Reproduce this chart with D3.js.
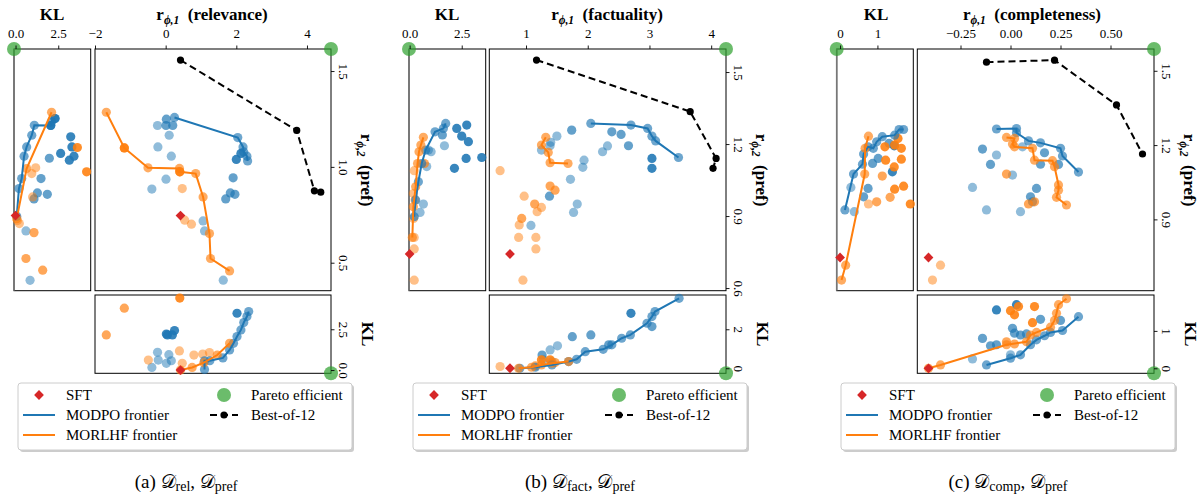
<!DOCTYPE html>
<html><head><meta charset="utf-8">
<script src="https://cdn.jsdelivr.net/npm/d3@7"></script>
<style>body{margin:0;background:#fff}</style>
</head><body>
<script>
// ---------------- DATA ----------------
// Each scatter point: [x, y, w] where w is a weight shown through opacity.
// (a) relevance vs pref
const relMainModpoFrontier=[[0.25,1.258],[2.04,1.153],[2.19,1.104],[2.21,1.078],[2.30,1.056],[2.32,1.031]];
const relMainMorlhfFrontier=[[-1.68,1.285],[-1.17,1.099],[-0.50,0.995],[0.39,0.992],[0.40,0.974],[0.85,0.965],[1.06,0.843],[1.24,0.652],[1.27,0.522],[1.81,0.457]];
const relMainModpoPts=[[0.02,1.249,.6],[-0.23,1.216,.3],[0.01,1.216,.6],[0.20,1.216,.6],[0.10,1.165,.3],[-0.22,1.104,.3],[0.16,1.056,.3],[2.13,1.07,.9],[2.0,1.039,.9],[0.01,0.936,.3],[1.91,0.943,.6],[-0.39,0.884,.3],[1.83,0.864,.6],[1.96,0.857,.6],[1.70,0.833,.6],[1.06,0.718,.3],[1.10,0.666,.3],[1.63,0.409,.3]];
const relMainMorlhfPts=[[-1.17,1.099,.9],[0.40,0.974,.9],[0.47,0.887,.3],[0.54,0.722,.3],[0.73,0.701,.3]];
const relBest=[[0.42,1.557],[3.71,1.19],[4.21,0.875],[4.39,0.868]];
const relSft=[0.42,0.746,0];
const relLeftModpoFrontier=[[0.07,0.743],[0.20,0.887],[0.36,0.939],[0.50,1.056],[0.65,1.104],[0.95,1.165],[1.10,1.217],[2.06,1.216],[2.11,1.235],[2.31,1.252]];
const relLeftMorlhfFrontier=[[0.07,0.730],[0.65,0.991],[2.11,1.285]];
const relLeftModpoPts=[[2.31,1.252,.9],[2.06,1.216,.9],[3.23,1.157,.9],[3.30,1.104,.9],[3.42,1.056,.9],[2.64,1.07,.9],[3.15,1.035,.9],[1.98,1.045,.6],[1.49,0.939,.6],[1.28,0.864,.6],[1.86,0.857,.6],[1.08,0.833,.6],[0.61,0.666,.3],[0.85,0.408,.3]];
const relLeftMorlhfPts=[[3.62,1.101,.9],[4.16,0.974,.9],[1.18,0.995,.3],[0.95,0.965,.3],[1.0,0.843,.3],[1.08,0.657,.6],[0.61,0.522,.6],[1.59,0.461,.6],[0.22,0.704,.3],[0.11,0.72,.3]];
const relBottomModpoFrontier=[[1.10,0.04],[1.10,0.57],[1.25,0.57],[1.62,0.74],[1.81,1.23],[1.92,1.64],[2.02,2.05],[2.13,2.46],[2.21,2.91],[2.30,3.28],[2.35,3.59]];
const relBottomMorlhfFrontier=[[0.42,0],[0.75,0.16],[1.08,0.45],[1.46,0.92],[1.81,1.64]];
const relBottomModpoPts=[[2.02,3.48,.9],[-0.23,1.09,.3],[0.05,2.15,.9],[0.19,2.15,.9],[0.25,2.42,.9],[0.02,2.21,.9],[-0.39,0.16,.3],[-0.21,0.61,.3],[0.09,0.94,.3],[0.02,0.41,.3],[0.16,0.57,.3]];
const relBottomMorlhfPts=[[-1.17,3.79,.6],[-1.68,2.15,.6],[0.40,4.41,.9],[-0.49,0.61,.3],[0.39,1.17,.3],[0.47,0.41,.3],[0.80,0.92,.3],[1.05,0.98,.3],[1.24,1.07,.3]];

// (b) factuality vs pref
const factMainModpoFrontier=[[2.05,1.286],[2.70,1.279],[2.97,1.265],[3.04,1.233],[3.10,1.213],[3.47,1.144]];
const factMainMorlhfFrontier=[[1.32,1.228],[1.25,1.196],[1.36,1.165],[1.39,1.122],[1.68,1.119]];
const factMainModpoPts=[[1.74,1.258,.6],[1.50,1.233,.3],[1.40,1.207,.3],[1.25,1.175,.3],[1.39,1.193,.3],[2.39,1.251,.6],[2.54,1.240,.6],[2.66,1.193,.6],[2.32,1.192,.3],[2.24,1.168,.3],[3.04,1.140,.9],[3.04,1.099,.9],[1.94,1.133,.3],[1.92,1.103,.3],[1.72,1.053,.3],[1.38,0.983,.6],[1.83,0.950,.3],[1.77,0.915,.3],[1.08,0.861,.3]];
const factMainMorlhfPts=[[0.58,1.089,.3],[1.39,1.025,.6],[1.47,1.008,.6],[0.97,0.983,.3],[1.14,0.950,.6],[1.25,0.936,.3],[1.18,0.918,.3],[0.93,0.890,.6],[0.89,0.863,.3],[0.88,0.811,.3],[1.16,0.811,.3],[1.16,0.763,.3],[0.95,0.633,.3]];
const factBest=[[1.17,1.55],[3.66,1.335],[4.08,1.14],[4.03,1.099]];
const factSft=[0.74,0.742,0];
const factLeftModpoFrontier=[[0.22,0.897],[0.29,0.967],[0.42,1.043],[0.58,1.119],[0.77,1.175],[1.22,1.251],[1.62,1.265],[1.73,1.286]];
const factLeftMorlhfFrontier=[[0.13,0.811],[0.18,0.939],[0.29,1.022],[0.38,1.119],[0.45,1.168],[0.54,1.196],[0.66,1.228]];
const factLeftModpoPts=[[2.26,1.265,.9],[2.74,1.279,.9],[2.5,1.233,.9],[2.82,1.21,.9],[1.67,1.193,.3],[1.03,1.168,.3],[0.82,1.106,.3],[2.15,1.099,.9],[2.71,1.14,.9],[3.46,1.144,.9],[1.57,1.238,.6],[0.66,0.95,.3],[0.5,0.915,.3],[0.9,1.175,.3]];
const factLeftMorlhfPts=[[0.22,1.089,.3],[0.18,0.994,.3],[0.26,0.967,.3],[0.19,0.89,.3],[0.22,0.811,.3],[0.22,0.763,.3],[0.22,0.633,.3],[0.71,1.119,.6]];
const factBottomModpoFrontier=[[0.90,0],[1.15,0.05],[1.42,0.17],[1.69,0.34],[1.82,0.46],[1.96,0.85],[2.25,0.97],[2.39,1.20],[2.55,1.54],[2.69,1.71],[2.96,2.31],[3.04,2.65],[3.09,2.91],[3.48,3.59]];
const factBottomMorlhfFrontier=[[0.88,0],[1.09,0.05],[1.25,0.17],[1.42,0.26],[1.69,0.34]];
const factBottomModpoPts=[[2.70,2.82,.9],[3.04,2.14,.6],[2.05,1.71,.6],[1.75,1.62,.6],[1.51,1.15,.3],[1.39,0.94,.3],[1.26,0.68,.6],[1.28,0.43,.3],[1.42,0.34,.3],[2.34,1.2,.6]];
const factBottomMorlhfPts=[[0.58,0.09,.3],[1.25,0.43,.9],[1.39,0.43,.9],[1.47,0.29,.6],[1.15,0.12,.6]];

// (c) completeness vs pref
const compMainModpoFrontier=[[-0.07,1.265],[0.03,1.267],[0.03,1.25],[0.09,1.217],[0.15,1.209],[0.25,1.187],[0.26,1.156],[0.34,1.091]];
const compMainMorlhfFrontier=[[-0.02,1.231],[0.02,1.227],[0.01,1.204],[0.02,1.193],[0.11,1.187],[0.12,1.139],[0.21,1.137],[0.22,1.113],[0.24,1.039],[0.24,1.018],[0.23,0.989],[0.28,0.958]];
const compMainModpoPts=[[-0.14,1.184,.6],[-0.07,1.16,.3],[-0.10,1.122,.6],[0.06,1.193,.3],[0.17,1.169,.6],[0.15,1.123,.6],[0.24,1.122,.6],[0.01,1.079,.3],[-0.19,1.029,.3],[0.13,1.025,.6],[0.10,0.991,.6],[0.11,0.971,.6],[-0.12,0.938,.3],[0.05,0.931,.3]];
const compMainMorlhfPts=[[-0.02,1.083,.6],[0.09,0.962,.6],[0.12,0.971,.6],[-0.35,0.715,.3],[-0.39,0.655,.3]];
const compBest=[[-0.12,1.535],[0.22,1.543],[0.53,1.362],[0.66,1.164]];
const compSft=[-0.41,0.746,0];
const compLeftModpoFrontier=[[0.13,0.938],[0.36,1.083],[0.6,1.123],[0.63,1.164],[0.75,1.193],[0.89,1.187],[0.98,1.213],[1.13,1.234],[1.46,1.240],[1.58,1.263],[1.70,1.263]];
const compLeftMorlhfFrontier=[[0.04,0.655],[0.15,0.715],[0.66,1.083],[0.67,1.187],[0.76,1.236]];
const compLeftModpoPts=[[0.38,0.931,.3],[0.63,0.991,.6],[0.75,1.025,.6],[0.87,1.126,.6],[1.02,1.146,.6],[1.40,1.092,.9],[1.31,1.207,.6],[1.45,1.197,.9],[0.29,1.029,.3]];
const compLeftMorlhfPts=[[0.76,0.962,.3],[0.98,0.971,.6],[1.34,0.989,.6],[1.46,1.022,.9],[1.70,1.034,.9],[1.88,0.962,.9],[1.13,1.075,.6],[1.45,1.112,.9],[1.64,1.143,.9],[1.22,1.139,.9],[1.64,1.187,.9],[1.55,1.227,.9],[1.20,1.193,.9],[1.46,1.2,.9]];
const compBottomModpoFrontier=[[-0.12,0.09],[0.0,0.27],[0.05,0.36],[0.10,0.63],[0.13,0.76],[0.17,0.87],[0.20,0.96],[0.26,1.01],[0.34,1.38]];
const compBottomMorlhfFrontier=[[-0.41,0],[-0.35,0.09],[-0.02,0.63],[0.08,0.71],[0.10,0.89],[0.13,0.96],[0.20,1.10],[0.22,1.28],[0.23,1.47],[0.24,1.70],[0.28,1.86]];
const compBottomModpoPts=[[-0.07,1.56,.9],[0.03,1.70,.9],[0.15,1.31,.6],[0.25,1.28,.6],[0.01,1.07,.6],[0.02,0.94,.6],[0.05,0.89,.6],[-0.14,0.80,.6],[-0.10,0.60,.6],[-0.07,0.63,.6],[-0.19,0.25,.3],[0.0,0.36,.3],[0.08,0.92,.6]];
const compBottomMorlhfPts=[[0.0,1.54,.9],[0.02,1.43,.9],[0.04,1.65,.9],[0.12,1.65,.9],[0.11,1.22,.9],[-0.02,0.71,.6],[0.02,0.65,.6]];

const panelLetters=["a","b","c"];
const objectiveNames=["relevance","factuality","completeness"];
const datasetSubs=["rel","fact","comp"];
const legendLabels=["SFT","MODPO frontier","MORLHF frontier","Pareto efficient","Best-of-12"];

// ---------------- DRAWING ----------------
const W=1204,H=499;
const FONT='"Liberation Serif","DejaVu Serif",serif';
const C0="#1f77b4",C1="#ff7f0e",RED="#d62728",GREEN="#2ca02c";
const svg=d3.select("body").append("svg").attr("width",W).attr("height",H)
  .style("font-family",FONT);
const wOpacity=d3.scaleLinear().domain([0,1]).range([0.3,0.95]);
const MY=[49,290.7], BY=[295,373.3];

const layout=[
 {lx:[14,90.7],mx:[95,331],xDom:[-2,4.68],yDom:[0.354,1.615],klL:[-0.09,4.4],klB:[-0.2,4.6],
  xT:[-2,0,2,4],xF:"d",yT:[0.5,1.0,1.5],yF:".1f",klLT:[0,2.5],klLF:".1f",klBT:[0,2.5],klBF:".1f",
  legX:18,capX:186,klTX:52,titleX:212},
 {lx:[409,485.7],mx:[489.3,726],xDom:[0.405,4.24],yDom:[0.589,1.596],klL:[-0.03,3.65],klB:[-0.26,3.76],
  xT:[1,2,3,4],xF:"d",yT:[0.6,0.9,1.2,1.5],yF:".1f",klLT:[0,2.5],klLF:".1f",klBT:[0,2],klBF:"d",
  legX:413,capX:580,klTX:447,titleX:607},
 {lx:[836.7,913.3],mx:[917.3,1154],xDom:[-0.466,0.7175],yDom:[0.612,1.588],klL:[-0.09,1.96],klB:[-0.134,1.96],
  xT:[-0.25,0,0.25,0.5],xF:".2f",yT:[0.9,1.2,1.5],yF:".1f",klLT:[0,1],klLF:"d",klBT:[0,1],klBF:"d",
  legX:841,capX:1008,klTX:876,titleX:1032}
];
const data=[
 {main:[relMainModpoPts,relMainMorlhfPts,relMainModpoFrontier,relMainMorlhfFrontier],
  left:[relLeftModpoPts,relLeftMorlhfPts,relLeftModpoFrontier,relLeftMorlhfFrontier],
  bottom:[relBottomModpoPts,relBottomMorlhfPts,relBottomModpoFrontier,relBottomMorlhfFrontier],
  best:relBest,sft:relSft},
 {main:[factMainModpoPts,factMainMorlhfPts,factMainModpoFrontier,factMainMorlhfFrontier],
  left:[factLeftModpoPts,factLeftMorlhfPts,factLeftModpoFrontier,factLeftMorlhfFrontier],
  bottom:[factBottomModpoPts,factBottomMorlhfPts,factBottomModpoFrontier,factBottomMorlhfFrontier],
  best:factBest,sft:factSft},
 {main:[compMainModpoPts,compMainMorlhfPts,compMainModpoFrontier,compMainMorlhfFrontier],
  left:[compLeftModpoPts,compLeftMorlhfPts,compLeftModpoFrontier,compLeftMorlhfFrontier],
  bottom:[compBottomModpoPts,compBottomMorlhfPts,compBottomModpoFrontier,compBottomMorlhfFrontier],
  best:compBest,sft:compSft}
];

function styleAxis(g){
  g.select(".domain").remove();
  g.selectAll(".tick line").attr("stroke","#000").attr("stroke-width",0.9);
  g.selectAll(".tick text").attr("fill","#000").style("font-family",FONT).style("font-size","13px");
  g.attr("font-family",null).attr("font-size",null);
}
function rotRight(g){
  g.selectAll(".tick text").attr("x",0).attr("dy",0).attr("text-anchor","middle")
   .attr("transform","translate(7.5,0) rotate(90)");
}
function drawSub(g,sx,sy,arrs){
  const [mp,op,mf,of]=arrs;
  const dots=(arr,col,op)=>g.append("g").selectAll("circle").data(arr).join("circle")
    .attr("cx",p=>sx(p[0])).attr("cy",p=>sy(p[1])).attr("r",4.6).attr("fill",col)
    .attr("fill-opacity",op);
  dots(mp,C0,p=>wOpacity(p[2]));
  dots(op,C1,p=>wOpacity(p[2]));
  dots(mf,C0,0.65);
  dots(of,C1,0.65);
  const line=d3.line().x(p=>sx(p[0])).y(p=>sy(p[1]));
  g.append("path").datum(mf).attr("d",line).attr("fill","none").attr("stroke",C0).attr("stroke-width",2);
  g.append("path").datum(of).attr("d",line).attr("fill","none").attr("stroke",C1).attr("stroke-width",2);
}
const diamond=d3.symbol(d3.symbolSquare,48);
function sftMark(g,x,y){
  g.append("path").attr("d",diamond()).attr("fill",RED)
   .attr("transform",`translate(${x},${y}) rotate(45)`);
}
function green(g,x,y){
  g.append("circle").attr("cx",x).attr("cy",y).attr("r",7).attr("fill",GREEN).attr("fill-opacity",0.7);
}
function rLabel(t,idx,name,size){
  t.append("tspan").attr("font-weight","bold").text("r");
  t.append("tspan").attr("font-size",size*0.68).attr("dy",4).attr("font-style","italic").attr("font-weight","bold").text("ϕ,"+idx);
  t.append("tspan").attr("dy",-4).attr("font-weight","bold").text("\u2002("+name+")");
}

layout.forEach((L,i)=>{
  const D=data[i];
  const g=svg.append("g");
  const x=d3.scaleLinear().domain(L.xDom).range(L.mx);
  const y=d3.scaleLinear().domain(L.yDom).range([MY[1],MY[0]]);
  const xl=d3.scaleLinear().domain(L.klL).range(L.lx);
  const yb=d3.scaleLinear().domain(L.klB).range([BY[1],BY[0]]);

  // frames
  g.append("rect").attr("x",L.lx[0]).attr("y",MY[0]).attr("width",L.lx[1]-L.lx[0]).attr("height",MY[1]-MY[0]).attr("fill","none").attr("stroke","#000");
  g.append("rect").attr("x",L.mx[0]).attr("y",MY[0]).attr("width",L.mx[1]-L.mx[0]).attr("height",MY[1]-MY[0]).attr("fill","none").attr("stroke","#000");
  g.append("rect").attr("x",L.mx[0]).attr("y",BY[0]).attr("width",L.mx[1]-L.mx[0]).attr("height",BY[1]-BY[0]).attr("fill","none").attr("stroke","#000");
  g.append("line").attr("x1",L.lx[0]).attr("x2",L.lx[0]).attr("y1",MY[0]).attr("y2",MY[1]).attr("stroke","#777").attr("stroke-width",1.6);

  // data
  drawSub(g,x,y,D.main);
  drawSub(g,xl,y,D.left);
  drawSub(g,x,yb,D.bottom);
  sftMark(g,x(D.sft[0]),y(D.sft[1]));
  sftMark(g,xl(D.sft[2]),y(D.sft[1]));
  sftMark(g,x(D.sft[0]),yb(D.sft[2]));
  const bl=d3.line().x(p=>x(p[0])).y(p=>y(p[1]));
  g.append("path").datum(D.best).attr("d",bl).attr("fill","none").attr("stroke","#000").attr("stroke-width",2).attr("stroke-dasharray","7,4");
  g.selectAll(null).data(D.best).join("circle").attr("cx",p=>x(p[0])).attr("cy",p=>y(p[1])).attr("r",3.6).attr("fill","#000");

  // pareto corners
  green(g,xl(L.klL[0]),y(L.yDom[1]));
  green(g,x(L.xDom[1]),y(L.yDom[1]));
  green(g,x(L.xDom[1]),yb(L.klB[0]));

  // axes
  const ax1=g.append("g").attr("transform",`translate(0,${MY[0]})`)
    .call(d3.axisTop(x).tickValues(L.xT).tickFormat(d3.format(L.xF)).tickSize(3.5).tickPadding(7.5));
  styleAxis(ax1);
  const ax2=g.append("g").attr("transform",`translate(0,${MY[0]})`)
    .call(d3.axisTop(xl).tickValues(L.klLT).tickFormat(d3.format(L.klLF)).tickSize(3.5).tickPadding(7.5));
  styleAxis(ax2);
  const ax3=g.append("g").attr("transform",`translate(${L.mx[1]},0)`)
    .call(d3.axisRight(y).tickValues(L.yT).tickFormat(d3.format(L.yF)).tickSize(3.5));
  styleAxis(ax3); rotRight(ax3);
  const ax4=g.append("g").attr("transform",`translate(${L.mx[1]},0)`)
    .call(d3.axisRight(yb).tickValues(L.klBT).tickFormat(d3.format(L.klBF)).tickSize(3.5));
  styleAxis(ax4); rotRight(ax4);

  // titles
  g.append("text").attr("x",L.klTX).attr("y",20).attr("text-anchor","middle")
    .attr("font-weight","bold").attr("font-size",17).text("KL");
  const t=g.append("text").attr("x",L.titleX).attr("y",20).attr("text-anchor","middle").attr("font-size",17);
  rLabel(t,1,objectiveNames[i],17);
  const ty=g.append("text").attr("text-anchor","middle").attr("font-size",17)
    .attr("transform",`translate(${L.mx[1]+30},170) rotate(90)`);
  rLabel(ty,2,"pref",17);
  g.append("text").attr("text-anchor","middle").attr("font-size",17).attr("font-weight","bold")
    .attr("transform",`translate(${L.mx[1]+31},${(BY[0]+BY[1])/2}) rotate(90)`).text("KL");

  // legend
  const lg=g.append("g").attr("transform",`translate(${L.legX},383)`);
  lg.append("rect").attr("x",2).attr("y",2).attr("width",334).attr("height",67).attr("rx",3).attr("fill","#aaa").attr("fill-opacity",0.6);
  lg.append("rect").attr("width",334).attr("height",67).attr("rx",3).attr("fill","#fff").attr("stroke","#ccc");
  const ltxt=(tx,ty,s)=>lg.append("text").attr("x",tx).attr("y",ty+5).attr("font-size",15).text(s);
  lg.append("path").attr("d",diamond()).attr("fill",RED).attr("transform","translate(21,12) rotate(45)");
  ltxt(48,12,legendLabels[0]);
  lg.append("line").attr("x1",5).attr("x2",37).attr("y1",32).attr("y2",32).attr("stroke",C0).attr("stroke-width",2);
  ltxt(48,32,legendLabels[1]);
  lg.append("line").attr("x1",5).attr("x2",37).attr("y1",52).attr("y2",52).attr("stroke",C1).attr("stroke-width",2);
  ltxt(48,52,legendLabels[2]);
  lg.append("circle").attr("cx",206).attr("cy",12).attr("r",7).attr("fill",GREEN).attr("fill-opacity",0.7);
  ltxt(233,12,legendLabels[3]);
  lg.append("line").attr("x1",192).attr("x2",220).attr("y1",32).attr("y2",32).attr("stroke","#000").attr("stroke-width",2).attr("stroke-dasharray","7,4");
  lg.append("circle").attr("cx",206).attr("cy",32).attr("r",3.6).attr("fill","#000");
  ltxt(233,32,legendLabels[4]);

  // caption
  const cap=g.append("text").attr("x",L.capX).attr("y",488).attr("text-anchor","middle").attr("font-size",19);
  cap.append("tspan").text("("+panelLetters[i]+") ");
  cap.append("tspan").text("𝒟");
  cap.append("tspan").attr("font-size",14).attr("dy",3).text(datasetSubs[i]);
  cap.append("tspan").attr("dy",-3).text(", ");
  cap.append("tspan").text("𝒟");
  cap.append("tspan").attr("font-size",14).attr("dy",3).text("pref");
});
</script>
</body></html>
